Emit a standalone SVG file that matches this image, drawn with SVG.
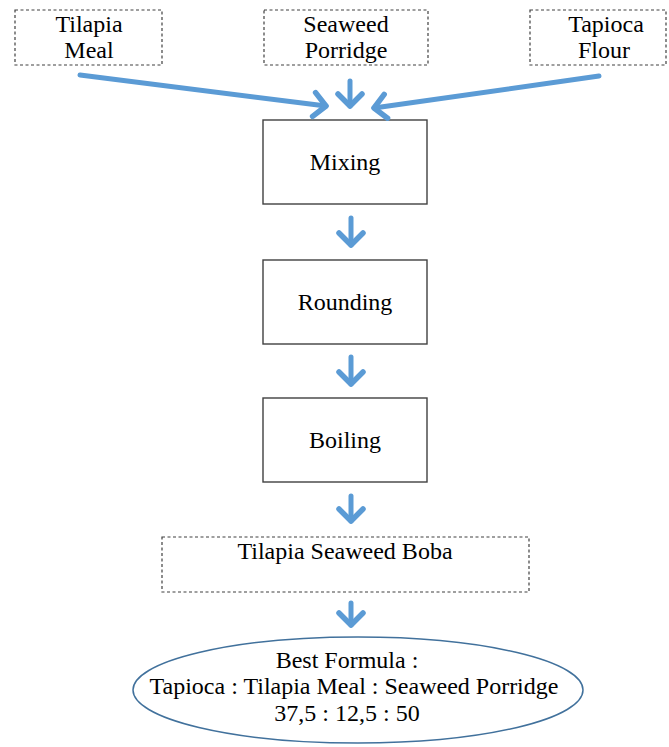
<svg xmlns="http://www.w3.org/2000/svg" width="669" height="747" viewBox="0 0 669 747">
<style>
  text { font-family: 'Liberation Serif', 'DejaVu Serif', serif; font-size: 24px; fill: #000; text-anchor: middle; }
  .dash { fill: #fff; stroke: #404040; stroke-width: 1.2; stroke-dasharray: 3 2.5; }
  .solid { fill: #fff; stroke: #404040; stroke-width: 1.4; }
  .arr { fill: none; stroke: #5B9BD5; stroke-width: 5; stroke-linecap: round; marker-end: url(#ah); }
  .ell { fill: #fff; stroke: #41719C; stroke-width: 1.5; }
</style>
<defs>
  <marker id="ah" markerUnits="userSpaceOnUse" viewBox="-20 -20 40 40" markerWidth="40" markerHeight="40" refX="0" refY="0" orient="auto" overflow="visible">
    <path d="M-12,-12 L0,0 L-12,12" fill="none" stroke="#5B9BD5" stroke-width="5.5" stroke-linecap="round" stroke-linejoin="round"/>
  </marker>
</defs>
<rect width="669" height="747" fill="#fff"/>
<g font-family="Liberation Serif, serif">
<g id="tilapia-meal">
  <rect class="dash" x="15" y="10" width="147" height="55"/>
  <text x="89" y="32">Tilapia</text>
  <text x="89" y="58">Meal</text>
</g>
<g id="seaweed-porridge">
  <rect class="dash" x="264" y="10" width="164" height="55"/>
  <text x="346" y="32">Seaweed</text>
  <text x="346" y="58">Porridge</text>
</g>
<g id="tapioca-flour">
  <rect class="dash" x="530" y="10" width="136" height="55"/>
  <text x="606" y="32">Tapioca</text>
  <text x="604" y="58">Flour</text>
</g>
<g id="mixing">
  <rect class="solid" x="263" y="120" width="164" height="84"/>
  <text x="345" y="170">Mixing</text>
</g>
<g id="rounding">
  <rect class="solid" x="263" y="260" width="164" height="84"/>
  <text x="345" y="310">Rounding</text>
</g>
<g id="boiling">
  <rect class="solid" x="263" y="398" width="164" height="84"/>
  <text x="345" y="448">Boiling</text>
</g>
<g id="tilapia-seaweed-boba">
  <rect class="dash" x="162" y="537" width="367" height="55"/>
  <text x="345" y="559">Tilapia Seaweed Boba</text>
</g>
<g id="best-formula">
  <ellipse class="ell" cx="358" cy="690" rx="225" ry="53"/>
  <text x="347" y="668">Best Formula :</text>
  <text x="354" y="694">Tapioca : Tilapia Meal : Seaweed Porridge</text>
  <text x="347" y="721">37,5 : 12,5 : 50</text>
</g>
</g>
<g id="connectors">
  <path class="arr" d="M80,75 L326,106"/>
  <path class="arr" d="M350,81 L350,106"/>
  <path class="arr" d="M599,76 L374,108"/>
  <path class="arr" d="M351,218 L351,245"/>
  <path class="arr" d="M351,357 L351,384"/>
  <path class="arr" d="M351,496 L351,521"/>
  <path class="arr" d="M351,603 L351,625"/>
</g>
</svg>
